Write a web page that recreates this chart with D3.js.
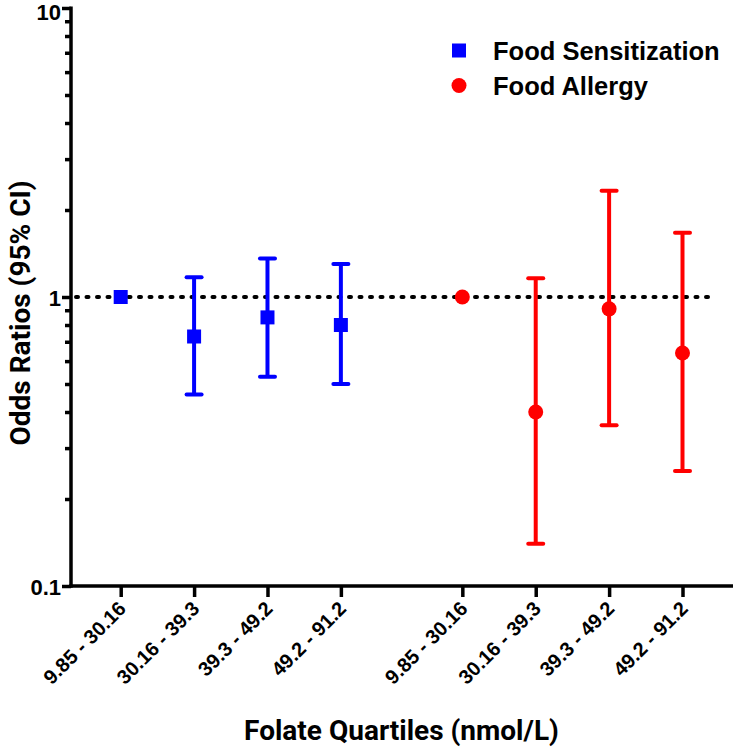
<!DOCTYPE html>
<html>
<head>
<meta charset="utf-8">
<script src="https://cdn.jsdelivr.net/npm/d3@7"></script>
<style>
  html, body { margin: 0; padding: 0; background: #fff; }
  svg { display: block; }
</style>
</head>
<body>
<svg id="chart" width="733" height="750"></svg>
<script>
// ---- data ----
const quartileLabels = ["9.85 - 30.16", "30.16 - 39.3", "39.3 - 49.2", "49.2 - 91.2"];
const seriesNames = ["Food Sensitization", "Food Allergy"];
const sensOR    = [1.00, 0.73, 0.85, 0.80];
const sensLower = [1.00, 0.46, 0.53, 0.50];
const sensUpper = [1.00, 1.17, 1.36, 1.30];
const allergyOR    = [1.00, 0.40, 0.91, 0.64];
const allergyLower = [1.00, 0.14, 0.36, 0.25];
const allergyUpper = [1.00, 1.16, 2.33, 1.67];
const yTicks = [0.1, 1, 10];
const yTickLabels = ["0.1", "1", "10"];
const referenceOR = 1;

// ---- layout ----
const svg = d3.select("#chart");
const groupGap = 0.655;
const colors = ["#0000ff", "#ff0000"];

const series = [
  { name: seriesNames[0], color: colors[0], shape: "square", or: sensOR, lo: sensLower, hi: sensUpper },
  { name: seriesNames[1], color: colors[1], shape: "circle", or: allergyOR, lo: allergyLower, hi: allergyUpper }
];

const points = [];
series.forEach((s, g) => {
  quartileLabels.forEach((q, i) => {
    points.push({ g, pos: g * quartileLabels.length + i + g * groupGap,
      label: q, or: s.or[i], lo: s.lo[i], hi: s.hi[i], color: s.color, shape: s.shape });
  });
});

const x = d3.scaleLinear().domain([0, 7 + groupGap]).range([120.7, 682.5]);
const y = d3.scaleLog().domain([0.1, 10]).range([586, 8]);
const axisLeftX = 71;

const font = "'Liberation Sans', Arial, Helvetica, sans-serif";
const titleFont = "Roboto, 'Liberation Sans', Arial, sans-serif";

// reference dotted line
svg.append("line")
  .attr("x1", 76).attr("x2", 712)
  .attr("y1", y(referenceOR)).attr("y2", y(referenceOR))
  .attr("stroke", "#000").attr("stroke-width", 4)
  .attr("stroke-dasharray", "2,8.5").attr("stroke-linecap", "round");

// error bars
const eb = svg.append("g");
points.filter(p => p.hi !== p.lo).forEach(p => {
  const cx = x(p.pos);
  eb.append("line").attr("x1", cx).attr("x2", cx).attr("y1", y(p.hi)).attr("y2", y(p.lo))
    .attr("stroke", p.color).attr("stroke-width", 4);
  [p.hi, p.lo].forEach(v => {
    eb.append("line").attr("x1", cx - 7.5).attr("x2", cx + 7.5).attr("y1", y(v)).attr("y2", y(v))
      .attr("stroke", p.color).attr("stroke-width", 4).attr("stroke-linecap", "round");
  });
});

// markers
points.forEach(p => {
  const cx = x(p.pos), cy = y(p.or);
  if (p.shape === "square") {
    svg.append("rect").attr("x", cx - 7).attr("y", cy - 7).attr("width", 14).attr("height", 14).attr("fill", p.color);
  } else {
    svg.append("circle").attr("cx", cx).attr("cy", cy).attr("r", 7.5).attr("fill", p.color);
  }
});

// y axis
const yMinor = [];
for (let d = 0.1; d < 10; d *= 10) for (let k = 2; k <= 9; k++) yMinor.push(+(d * k).toFixed(3));

const yMinorAxis = svg.append("g").attr("transform", `translate(${axisLeftX},0)`)
  .call(d3.axisLeft(y).tickValues(yMinor).tickSize(6).tickFormat(""));
yMinorAxis.select(".domain").remove();
yMinorAxis.selectAll("line").attr("stroke", "#000").attr("stroke-width", 3.5);

const yAxis = svg.append("g").attr("transform", `translate(${axisLeftX},0)`)
  .call(d3.axisLeft(y).tickValues(yTicks).tickSize(9).tickSizeOuter(0)
    .tickFormat((d, i) => yTickLabels[i]));
yAxis.attr("font-size", null).attr("font-family", null);
yAxis.select(".domain").attr("stroke", "#000").attr("stroke-width", 3.5)
  .attr("d", `M0,${y(10) - 1.5}V${y(0.1) + 1.75}`);
yAxis.selectAll(".tick line").attr("stroke", "#000").attr("stroke-width", 3.5);
yAxis.selectAll(".tick text").attr("x", -10).attr("dy", "0.38em")
  .attr("y", d => d === 10 ? 3.5 : 0)
  .style("font-family", font).style("font-weight", "bold").style("font-size", "22px").attr("fill", "#000");

// x axis
const xAxis = svg.append("g").attr("transform", `translate(0,${y(0.1)})`)
  .call(d3.axisBottom(x).tickValues(points.map(p => p.pos)).tickSize(11).tickSizeOuter(0)
    .tickFormat((d, i) => points[i].label));
xAxis.attr("font-size", null).attr("font-family", null);
xAxis.select(".domain").attr("stroke", "#000").attr("stroke-width", 3.5)
  .attr("d", `M${axisLeftX - 1.75},0H733`);
xAxis.selectAll(".tick line").attr("stroke", "#000").attr("stroke-width", 3.5);
xAxis.selectAll(".tick text")
  .attr("text-anchor", "end").attr("x", 0).attr("y", 0).attr("dy", 0)
  .attr("transform", "translate(6,24) rotate(-45)")
  .style("font-family", font).style("font-weight", "bold").style("font-size", "20px").attr("fill", "#000");

// axis titles
svg.append("text")
  .attr("transform", "translate(30,313) rotate(-90)")
  .attr("text-anchor", "middle")
  .style("font-family", titleFont).style("font-weight", "bold").style("font-size", "28px")
  .text("Odds Ratios (95% CI)");

svg.append("text")
  .attr("x", 401.5).attr("y", 740)
  .attr("text-anchor", "middle")
  .style("font-family", titleFont).style("font-weight", "bold").style("font-size", "28px")
  .text("Folate Quartiles (nmol/L)");

// legend
const legend = svg.append("g");
series.forEach((s, i) => {
  const cy = 50.5 + i * 35;
  if (s.shape === "square") {
    legend.append("rect").attr("x", 459 - 7).attr("y", cy - 7).attr("width", 14).attr("height", 14).attr("fill", s.color);
  } else {
    legend.append("circle").attr("cx", 459).attr("cy", cy).attr("r", 7.5).attr("fill", s.color);
  }
  legend.append("text").attr("x", 493).attr("y", cy).attr("dy", "0.36em")
    .style("font-family", font).style("font-weight", "bold").style("font-size", "25.5px")
    .text(s.name);
});
</script>
</body>
</html>
